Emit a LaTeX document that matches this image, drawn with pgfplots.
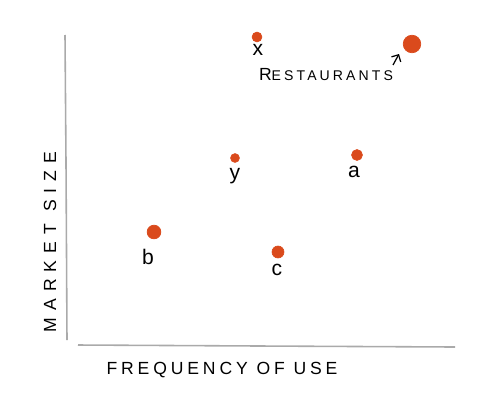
\documentclass[border=0pt]{standalone}
\usepackage{fontspec}
\setmainfont{Liberation Sans}
\usepackage{pgfplots}
\pgfplotsset{compat=1.18}
\usetikzlibrary{arrows.meta}
\definecolor{dot}{RGB}{218,74,28}
\definecolor{pencil}{RGB}{170,170,170}
\newfontfamily\spaced[LetterSpace=22]{Liberation Sans}
\newfontfamily\wide[LetterSpace=40]{Liberation Sans}

\begin{document}
\begin{tikzpicture}
\begin{axis}[scale only axis,width=10cm,height=8.24cm,xmin=0,xmax=500,ymin=0,ymax=412,
  hide axis,clip=false]
\path (axis cs:0,0) (axis cs:500,412);
% hand-drawn axes
\addplot[pencil,line width=0.9pt] coordinates {(65,377) (66,250) (67,72)};
\addplot[pencil,line width=0.9pt] coordinates {(78,67) (260,66) (455,65)};
% dots
\addplot[only marks,mark=*,dot,mark size=2.8pt] coordinates {(257,375)};
\addplot[only marks,mark=*,dot,mark size=5pt] coordinates {(412,368)};
\addplot[only marks,mark=*,dot,mark size=2.5pt] coordinates {(235,254)};
\addplot[only marks,mark=*,dot,mark size=3.1pt] coordinates {(357,257)};
\addplot[only marks,mark=*,dot,mark size=3.9pt] coordinates {(154,180)};
\addplot[only marks,mark=*,dot,mark size=3.4pt] coordinates {(278,160)};
% labels
\node[font=\large] at (axis cs:258,362) {x};
\node[font=\large] at (axis cs:235,236) {y};
\node[font=\large] at (axis cs:354,240) {a};
\node[font=\large] at (axis cs:148,155) {b};
\node[font=\large] at (axis cs:277,142) {c};
\node[font=\spaced\normalsize] at (axis cs:326,337) {R\footnotesize ESTAURANTS};
\draw[-{Straight Barb[length=3pt]},line width=0.7pt] (axis cs:393,347) -- (axis cs:399,358);
\node[font=\spaced\normalsize] at (axis cs:222,42) {FREQUENCY OF USE};
\node[font=\wide\normalsize,rotate=90] at (axis cs:50,170) {MARKET SIZE};
\end{axis}
\end{tikzpicture}
\end{document}
